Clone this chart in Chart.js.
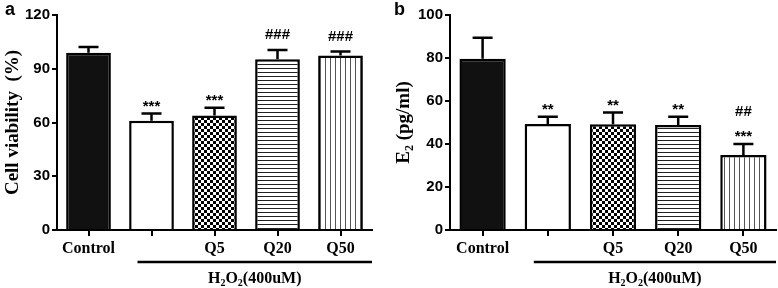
<!DOCTYPE html>
<html>
<head>
<meta charset="utf-8">
<script src="https://cdn.jsdelivr.net/npm/chart.js@4.4.0/dist/chart.umd.min.js"></script>
<style>
body { margin: 0; background: #fff; }
#wrap { position: relative; width: 778px; height: 288px; }
.panel { position: absolute; top: 0; width: 389px; height: 288px; }
</style>
</head>
<body>
<div id="wrap">
  <div class="panel" style="left:0"><canvas id="chartA"></canvas></div>
  <div class="panel" style="left:389px"><canvas id="chartB"></canvas></div>
</div>
<script>
// data
var categories = ['Control', '', 'Q5', 'Q20', 'Q50'];

var viability = [98.9, 61.0, 63.9, 95.3, 97.4];
var viabilityErr = [3.3, 4.0, 4.3, 5.2, 2.2];
var viabilityMarks = [[], ['***'], ['***'], ['###'], ['###']];
var viabilityTicks = [0, 30, 60, 90, 120];

var e2 = [79.7, 49.3, 49.2, 48.8, 34.9];
var e2Err = [9.7, 3.4, 5.4, 3.9, 5.1];
var e2Marks = [[], ['**'], ['**'], ['**'], ['***', '##']];
var e2Ticks = [0, 20, 40, 60, 80, 100];

var groupLabel = [{t: 'H'}, {t: '2', sub: true}, {t: 'O'}, {t: '2', sub: true}, {t: '(400uM)'}];
var titleA = [{t: 'Cell viability  (%)'}];
var titleB = [{t: 'E'}, {t: '2', sub: true}, {t: ' (pg/ml)'}];

var SERIF = '"Liberation Serif", "Times New Roman", serif';
var SANS = '"Liberation Sans", Arial, sans-serif';

function makePattern(kind) {
    var c = document.createElement('canvas');
    var g = c.getContext('2d');
    if (kind === 'checker') {
        c.width = 6; c.height = 6;
        g.fillStyle = '#fff'; g.fillRect(0, 0, 6, 6);
        g.fillStyle = '#000'; g.fillRect(0, 0, 3, 3); g.fillRect(3, 3, 3, 3);
    } else if (kind === 'hlines') {
        c.width = 4; c.height = 4;
        g.fillStyle = '#fff'; g.fillRect(0, 0, 4, 4);
        g.fillStyle = '#222'; g.fillRect(0, 0, 4, 1);
    } else {
        c.width = 5; c.height = 5;
        g.fillStyle = '#fff'; g.fillRect(0, 0, 5, 5);
        g.fillStyle = '#555'; g.fillRect(0, 0, 1, 5);
    }
    return g.createPattern(c, 'repeat');
}

var fills = ['#111', '#fff', makePattern('checker'), makePattern('hlines'), makePattern('vlines')];

function drawSegments(ctx, segs, cx, baseline, size, family) {
    var big = 'bold ' + size + 'px ' + family;
    var small = 'bold ' + Math.round(size * 0.62) + 'px ' + family;
    var w = 0;
    segs.forEach(function (s) { ctx.font = s.sub ? small : big; w += ctx.measureText(s.t).width; });
    var x = cx - w / 2;
    ctx.textAlign = 'left';
    ctx.textBaseline = 'alphabetic';
    segs.forEach(function (s) {
        ctx.font = s.sub ? small : big;
        ctx.fillText(s.t, x, baseline + (s.sub ? size * 0.2 : 0));
        x += ctx.measureText(s.t).width;
    });
}

var decoPlugin = {
    id: 'deco',
    afterDatasetsDraw: function (chart) {
        var o = chart.options.plugins.deco;
        var ctx = chart.ctx;
        var xs = chart.scales.x, ys = chart.scales.y;
        var meta = chart.getDatasetMeta(0);
        var vals = chart.data.datasets[0].data;
        ctx.save();
        ctx.strokeStyle = '#000';
        ctx.fillStyle = '#000';
        ctx.lineWidth = 2.5;
        meta.data.forEach(function (bar, i) {
            var top = ys.getPixelForValue(vals[i]);
            var et = ys.getPixelForValue(vals[i] + o.err[i]);
            ctx.beginPath();
            ctx.moveTo(bar.x, top);
            ctx.lineTo(bar.x, et);
            ctx.moveTo(bar.x - 10, et);
            ctx.lineTo(bar.x + 10, et);
            ctx.stroke();
            ctx.font = 'bold 15px ' + SANS;
            ctx.textAlign = 'center';
            ctx.textBaseline = 'alphabetic';
            o.marks[i].forEach(function (m, k) {
                var off = m.charAt(0) === '#' ? 11 : 3;
                ctx.fillText(m, bar.x, et - off - k * 17);
            });
        });
        // group bracket under the treated bars
        var x0 = xs.getPixelForValue(1) - 14;
        var x1 = chart.chartArea.right;
        ctx.beginPath();
        ctx.moveTo(x0, 262);
        ctx.lineTo(x1, 262);
        ctx.stroke();
        drawSegments(ctx, groupLabel, (x0 + x1) / 2, 283, 16, SERIF);
        // y axis title
        ctx.save();
        ctx.translate(o.titleX, (chart.chartArea.top + chart.chartArea.bottom) / 2);
        ctx.rotate(-Math.PI / 2);
        drawSegments(ctx, o.title, 0, 7, 19, SERIF);
        ctx.restore();
        // panel letter
        ctx.font = 'bold 18px ' + SANS;
        ctx.textAlign = 'left';
        ctx.fillText(o.letter, 5, 15);
        ctx.restore();
    }
};

function makeChart(id, values, err, marks, ticks, title, letter, yWidth, padRight, titleX) {
    return new Chart(document.getElementById(id), {
        type: 'bar',
        data: {
            labels: categories,
            datasets: [{
                data: values,
                backgroundColor: fills,
                borderColor: '#000',
                borderWidth: 2.5,
                barPercentage: 0.71,
                categoryPercentage: 1
            }]
        },
        options: {
            responsive: true,
            maintainAspectRatio: false,
            animation: false,
            layout: { padding: { top: 15, right: padRight, left: 0, bottom: 0 } },
            plugins: {
                legend: { display: false },
                tooltip: { enabled: false },
                deco: { err: err, marks: marks, title: title, letter: letter, titleX: titleX }
            },
            scales: {
                x: {
                    grid: { drawOnChartArea: false, offset: false, color: '#000', tickColor: '#000', tickLength: 6, tickWidth: 2, lineWidth: 2 },
                    border: { color: '#000', width: 2 },
                    ticks: { color: '#000', padding: 3, maxRotation: 0, font: { family: SERIF, size: 16, weight: 'bold' } },
                    afterFit: function (s) { s.height = 58; }
                },
                y: {
                    min: ticks[0],
                    max: ticks[ticks.length - 1],
                    afterBuildTicks: function (s) { s.ticks = ticks.map(function (v) { return {value: v}; }); },
                    grid: { drawOnChartArea: false, color: '#000', tickColor: '#000', tickLength: 5, tickWidth: 2, lineWidth: 2 },
                    border: { color: '#000', width: 2 },
                    ticks: { color: '#000', padding: 2, font: { family: SANS, size: 15, weight: 'bold' } },
                    afterFit: function (s) { s.width = yWidth; }
                }
            }
        },
        plugins: [decoPlugin]
    });
}

makeChart('chartA', viability, viabilityErr, viabilityMarks, viabilityTicks, titleA, 'a', 57, 17, 11);
makeChart('chartB', e2, e2Err, e2Marks, e2Ticks, titleB, 'b', 61, 2, 13);
</script>
</body>
</html>
